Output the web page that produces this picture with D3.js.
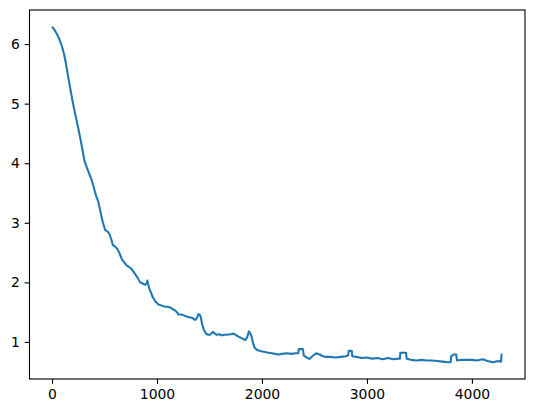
<!DOCTYPE html>
<html>
<head>
<meta charset="utf-8">
<script src="https://cdn.jsdelivr.net/npm/d3@7"></script>
<style>
  html, body { margin: 0; padding: 0; background: #ffffff; }
  svg { display: block; }
</style>
</head>
<body>
<svg id="chart" width="534" height="413"></svg>
<script>
const steps = [0,20,46,70,93,115,134,152,172,195,220,245,268,290,309,331,355,379,400,420,440,452,470,484,506,530,547,565,579,600,623,640,665,690,713,740,760,792,815,839,865,887,900,909,918,928,945,960,985,1014,1045,1078,1100,1125,1150,1173,1190,1205,1230,1252,1275,1300,1320,1341,1363,1380,1395,1410,1418,1430,1443,1460,1474,1490,1506,1532,1550,1570,1595,1617,1640,1665,1700,1728,1750,1776,1810,1840,1860,1875,1890,1903,1915,1928,1950,1983,2005,2030,2060,2094,2125,2157,2190,2237,2280,2320,2346,2350,2390,2398,2425,2452,2480,2516,2550,2580,2602,2650,2700,2750,2800,2822,2826,2855,2860,2900,2950,3000,3050,3100,3150,3200,3250,3300,3314,3318,3372,3378,3420,3470,3520,3570,3620,3670,3720,3770,3798,3802,3830,3850,3858,3900,3950,4000,4050,4100,4150,4200,4250,4278,4282,4291];
const losses = [6.29,6.25,6.17,6.08,5.97,5.83,5.66,5.47,5.27,5.05,4.83,4.63,4.43,4.23,4.04,3.93,3.82,3.71,3.58,3.45,3.36,3.26,3.12,3.01,2.88,2.85,2.81,2.72,2.63,2.60,2.56,2.50,2.39,2.33,2.28,2.25,2.22,2.14,2.08,2.00,1.98,1.96,1.98,2.03,1.95,1.89,1.82,1.75,1.68,1.63,1.61,1.59,1.59,1.58,1.55,1.53,1.50,1.46,1.46,1.45,1.43,1.42,1.41,1.40,1.37,1.40,1.47,1.45,1.41,1.30,1.22,1.16,1.13,1.12,1.12,1.17,1.14,1.12,1.13,1.11,1.12,1.12,1.13,1.14,1.12,1.09,1.06,1.03,1.08,1.18,1.14,1.08,0.98,0.91,0.87,0.85,0.84,0.83,0.82,0.81,0.80,0.79,0.80,0.81,0.80,0.81,0.81,0.88,0.88,0.77,0.74,0.715,0.76,0.81,0.79,0.76,0.75,0.75,0.74,0.75,0.76,0.78,0.85,0.85,0.76,0.75,0.73,0.74,0.72,0.73,0.71,0.73,0.71,0.72,0.72,0.82,0.82,0.72,0.70,0.69,0.70,0.69,0.69,0.68,0.67,0.66,0.66,0.76,0.79,0.79,0.69,0.70,0.70,0.70,0.69,0.71,0.68,0.66,0.68,0.67,0.79,0.79];
const xTicks = [0,1000,2000,3000,4000];
const yTicks = [1,2,3,4,5,6];

const data = steps.map((s, i) => ({x: s, y: losses[i]}));

const plot = {left: 29.5, right: 525, top: 10, bottom: 379};
const svg = d3.select("#chart");

const xExt = d3.extent(steps), yExt = d3.extent(losses);
const xPad = (xExt[1] - xExt[0]) * 0.05, yPad = (yExt[1] - yExt[0]) * 0.05;
const x = d3.scaleLinear().domain([xExt[0] - xPad, xExt[1] + xPad]).range([plot.left, plot.right]);
const y = d3.scaleLinear().domain([yExt[0] - yPad, yExt[1] + yPad]).range([plot.bottom, plot.top]);

const font = "'DejaVu Sans', sans-serif";
const tickLen = 4.86;

const line = d3.line().x(d => x(d.x)).y(d => y(d.y));
svg.append("path").datum(data)
  .attr("d", line)
  .attr("fill", "none")
  .attr("stroke", "#1f77b4")
  .attr("stroke-width", 2.08)
  .attr("stroke-linejoin", "round")
  .attr("stroke-linecap", "butt");

const xAxis = svg.append("g")
  .attr("transform", `translate(0,${plot.bottom})`)
  .call(d3.axisBottom(x).tickValues(xTicks).tickFormat(d3.format("d")).tickSize(tickLen).tickPadding(4.86));
const yAxis = svg.append("g")
  .attr("transform", `translate(${plot.left},0)`)
  .call(d3.axisLeft(y).tickValues(yTicks).tickFormat(d3.format("d")).tickSize(tickLen).tickPadding(4.86));

[xAxis, yAxis].forEach(g => {
  g.select(".domain").remove();
  g.selectAll(".tick line").attr("stroke", "#000").attr("stroke-width", 1.11);
  g.selectAll(".tick text").attr("fill", "#000").style("font-family", font).style("font-size", "13.9px");
});

svg.append("rect")
  .attr("x", plot.left).attr("y", plot.top)
  .attr("width", plot.right - plot.left).attr("height", plot.bottom - plot.top)
  .attr("fill", "none").attr("stroke", "#000").attr("stroke-width", 1.11);
</script>
</body>
</html>
